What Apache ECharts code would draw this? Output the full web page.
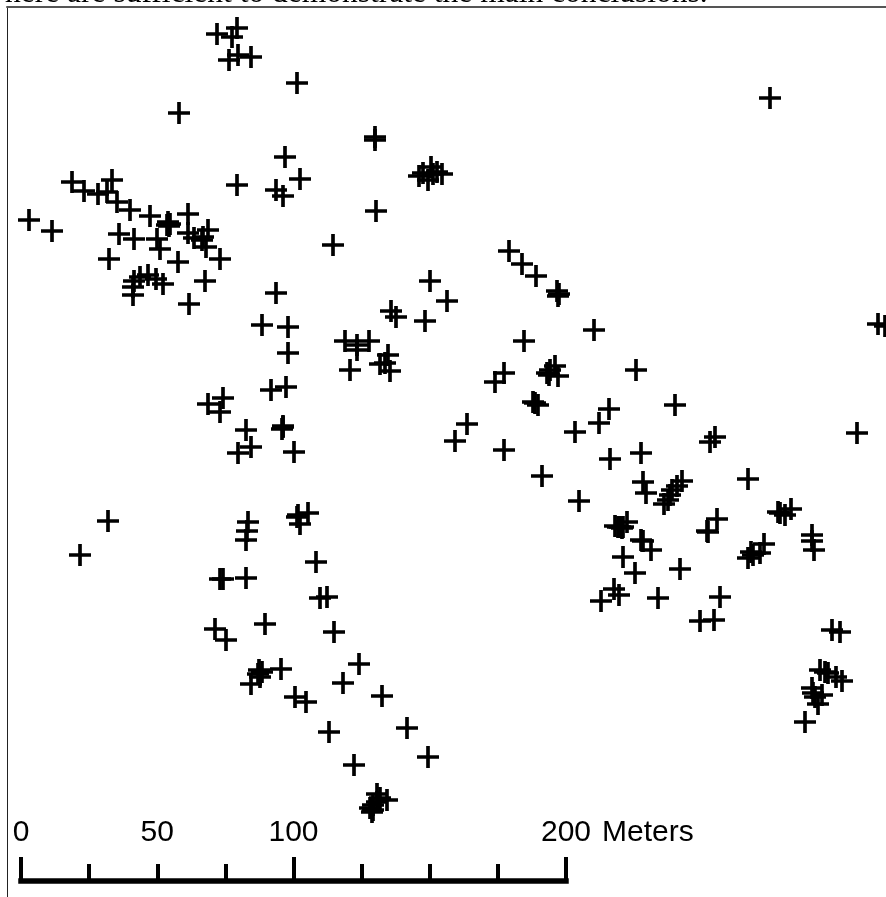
<!DOCTYPE html>
<html>
<head>
<meta charset="utf-8">
<style>html,body{margin:0;padding:0;background:#fff}#c{width:886px;height:897px}</style>
<script src="https://cdn.jsdelivr.net/npm/echarts@6/dist/echarts.min.js"></script>
</head>
<body>
<div id="c"></div>
<script>
// Values in map units (image scale); y grows southwards.
const northTop = [[217,34],[237,28],[232,37],[229,60],[238,55],[251,57],[297,83],[179,113],[375,137],[375,140],[285,157],[300,179],[237,185],[276,190],[283,196],[770,98]];
const ridgeCluster = [[419,176],[423,173],[431,167],[428,180],[437,172],[442,174],[433,174],[376,211],[333,245]];
const westGroup = [[29,220],[52,231],[72,182],[84,191],[98,194],[107,192],[112,180],[117,202],[130,210],[150,216],[188,214],[168,222],[170,224],[167,225],[169,226],[119,234],[134,239],[157,239],[160,249],[208,230],[188,233],[194,238],[203,237],[202,240],[206,247],[109,259],[178,262],[220,259],[148,275],[156,279],[163,284],[134,281],[133,287],[133,295],[140,277],[205,281],[189,304]];
const middleGroup = [[276,293],[262,325],[288,327],[288,353],[271,390],[286,387],[223,398],[208,404],[220,412],[246,430],[251,447],[238,453],[282,429],[283,426],[283,427],[294,452],[391,311],[396,317],[425,321],[430,281],[447,301],[345,341],[357,345],[357,350],[369,341],[350,370],[388,355],[380,364],[385,363],[390,371],[467,424],[455,441]];
const eastDiagonal = [[509,251],[522,264],[536,276],[557,291],[559,294],[558,296],[594,330],[524,341],[504,373],[495,382],[636,370],[555,366],[558,376],[549,375],[550,370],[547,373],[533,402],[538,405],[535,403],[609,409],[675,405],[599,423],[575,432],[504,450],[542,476],[579,501],[610,459],[641,453],[715,437],[710,442],[857,433],[748,479],[643,482],[646,493],[682,481],[677,486],[672,490],[670,495],[668,500],[664,504]];
const eastLower = [[717,519],[707,531],[708,532],[791,509],[780,513],[785,515],[778,512],[812,535],[812,541],[814,550],[764,544],[760,553],[751,552],[748,558],[753,555],[615,526],[627,522],[622,528],[620,527],[623,527],[618,527],[641,540],[643,541],[651,550],[623,557],[635,573],[680,569],[614,589],[619,595],[601,601],[658,598],[720,597],[700,621],[714,620],[878,324],[885,326]];
const southEast = [[832,630],[840,632],[820,670],[825,672],[828,673],[836,677],[842,681],[812,688],[813,693],[822,695],[815,697],[818,704],[805,722]];
const southWest = [[108,521],[80,555],[248,522],[247,531],[246,540],[298,515],[308,513],[300,524],[297,517],[316,562],[223,579],[220,579],[246,578],[320,598],[327,597],[215,629],[226,640],[265,624],[334,632],[359,664],[343,683],[382,696],[281,669],[251,684],[259,670],[262,672],[258,674],[260,677],[295,697],[306,702],[329,732],[354,765],[407,728],[428,757],[377,794],[387,800],[380,798],[377,802],[373,805],[370,808],[372,812],[373,810]];

const scaleLabels = {0:'0',50:'50',100:'100',200:'200'};
const scaleUnit = 'Meters';
const captionText = 'here are sufficient to demonstrate the main conclusions.';

const plus = 'path://M9,0h3.6v9h9v3.6h-9v9h-3.6v-9h-9v-3.6h9z';
const points = [].concat(northTop, ridgeCluster, westGroup, middleGroup, eastDiagonal, eastLower, southEast, southWest);
const font = '"Liberation Sans", Arial, sans-serif';

const chart = echarts.init(document.getElementById('c'), null, {renderer:'canvas'});
chart.setOption({
  animation:false,
  backgroundColor:'#fff',
  title:{text:captionText,left:0,top:-27,textStyle:{fontFamily:'"Liberation Serif",serif',fontSize:31.5,fontWeight:'normal',color:'#000'}},
  grid:[
    {left:7,top:7,right:0,bottom:0},
    {left:21,width:545,top:880,height:1}
  ],
  xAxis:[
    {gridIndex:0,type:'value',min:7,max:886,position:'top',
     axisLine:{show:true,onZero:false,lineStyle:{color:'#555',width:2}},axisTick:{show:false},axisLabel:{show:false},splitLine:{show:false}},
    {gridIndex:1,type:'value',min:0,max:200,interval:25,position:'bottom',
     axisLine:{show:true,onZero:false,lineStyle:{color:'#000',width:5.5,cap:'square'}},
     axisTick:{show:true,inside:true,length:17,lineStyle:{color:'#000',width:4}},axisLabel:{show:false},splitLine:{show:false}},
    {gridIndex:1,type:'value',min:0,max:200,interval:100,position:'bottom',
     axisLine:{show:false,onZero:false},
     axisTick:{show:true,inside:true,length:24,lineStyle:{color:'#000',width:4}},axisLabel:{show:false},splitLine:{show:false}},
    {gridIndex:1,type:'value',min:0,max:200,interval:50,position:'bottom',
     axisLine:{show:false,onZero:false},axisTick:{show:false},splitLine:{show:false},
     axisLabel:{show:true,inside:true,margin:33,color:'#000',fontFamily:font,fontSize:30,
       formatter:v=>scaleLabels[v]||''}}
  ],
  yAxis:[
    {gridIndex:0,type:'value',min:7,max:897,inverse:true,
     axisLine:{show:true,onZero:false,lineStyle:{color:'#222',width:1}},axisTick:{show:false},axisLabel:{show:false},splitLine:{show:false}},
    {gridIndex:1,type:'value',min:0,max:1,show:false}
  ],
  graphic:[{type:'text',left:602,top:818,style:{text:scaleUnit,fill:'#000',font:'30px '+font}}],
  series:[{
    type:'scatter',xAxisIndex:0,yAxisIndex:0,data:points,symbol:plus,symbolSize:22,
    itemStyle:{color:'#000',opacity:1},clip:true,silent:true
  }]
});
</script>
</body>
</html>
